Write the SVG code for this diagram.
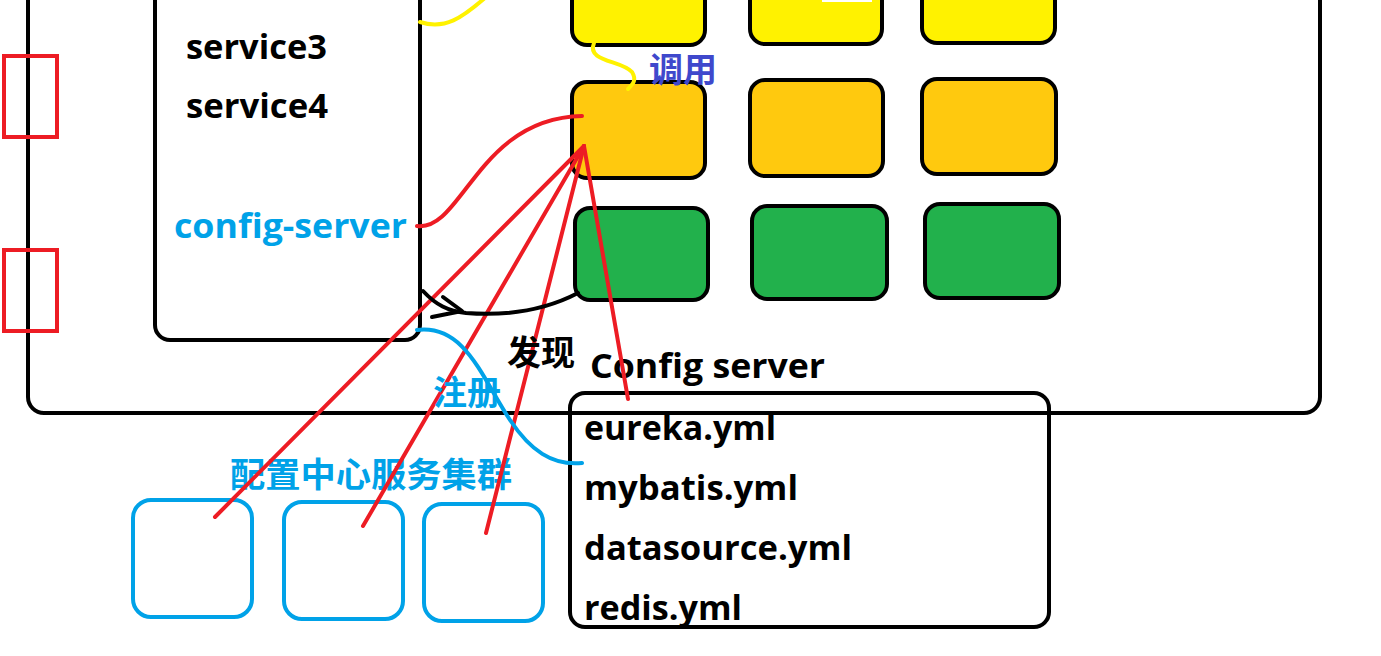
<svg xmlns="http://www.w3.org/2000/svg" width="1381" height="656" viewBox="0 0 1381 656">
<style>
.box{fill:none;stroke:#000;stroke-width:4}
.y{fill:#FFF200;stroke:#000;stroke-width:4}
.o{fill:#FFC90E;stroke:#000;stroke-width:4}
.g{fill:#22B14C;stroke:#000;stroke-width:4}
.bl{fill:none;stroke:#00A2E8;stroke-width:4}
.rr{fill:none;stroke:#ED1C24;stroke-width:4}
.t{font-family:"Open Sans","Noto Sans CJK SC",sans-serif;font-weight:bold;font-size:34px;fill:#000}
.c{font-family:"Noto Sans CJK SC","Noto Sans CJK JP",sans-serif;font-weight:bold;font-size:34px}
.red{fill:none;stroke:#ED1C24;stroke-width:4;stroke-linecap:round}
.blue{fill:none;stroke:#00A2E8;stroke-width:4;stroke-linecap:round}
.yel{fill:none;stroke:#FFF200;stroke-width:4;stroke-linecap:round}
.blk{fill:none;stroke:#000;stroke-width:4;stroke-linecap:round;stroke-linejoin:round}
</style>
<rect width="1381" height="656" fill="#fff"/>
<g id="outer-box"><rect class="box" x="28" y="-40" width="1292" height="453" rx="16"/></g>
<g id="red-marker-1"><rect class="rr" x="4" y="56" width="53" height="81"/></g>
<g id="red-marker-2"><rect class="rr" x="4" y="250" width="53" height="81"/></g>
<g id="service-box">
<rect class="box" x="155" y="-40" width="265" height="380" rx="15"/>
<text class="t" x="186" y="59" textLength="141" lengthAdjust="spacingAndGlyphs">service3</text>
<text class="t" x="186" y="118" textLength="142" lengthAdjust="spacingAndGlyphs">service4</text>
<text class="t" x="174" y="238" style="fill:#00A2E8" textLength="233" lengthAdjust="spacingAndGlyphs">config-server</text>
</g>
<g id="yellow-row">
<rect class="y" x="572" y="-40" width="133" height="85" rx="15"/>
<rect class="y" x="750" y="-40" width="132" height="84" rx="15"/>
<rect x="822" y="-5" width="50" height="7" fill="#fff"/>
<rect class="y" x="922" y="-40" width="133" height="83" rx="15"/>
</g>
<g id="orange-row">
<rect class="o" x="572" y="82" width="133" height="96" rx="15"/>
<rect class="o" x="750" y="80" width="133" height="96" rx="15"/>
<rect class="o" x="922" y="79" width="134" height="95" rx="15"/>
</g>
<g id="green-row">
<rect class="g" x="575" y="208" width="133" height="92" rx="15"/>
<rect class="g" x="752" y="206" width="135" height="93" rx="15"/>
<rect class="g" x="925" y="204" width="134" height="94" rx="15"/>
</g>
<g id="config-server-box">
<text class="t" x="590" y="378" textLength="235" lengthAdjust="spacingAndGlyphs">Config server</text>
<rect class="box" x="570" y="393" width="479" height="234" rx="15"/>
<text class="t" x="584" y="440" textLength="192" lengthAdjust="spacingAndGlyphs">eureka.yml</text>
<text class="t" x="584" y="500" textLength="214" lengthAdjust="spacingAndGlyphs">mybatis.yml</text>
<text class="t" x="584" y="560" textLength="268" lengthAdjust="spacingAndGlyphs">datasource.yml</text>
<text class="t" x="584" y="620" textLength="158" lengthAdjust="spacingAndGlyphs">redis.yml</text>
</g>
<g id="config-cluster">
<text class="c" x="230" y="487" fill="#00A2E8" font-size="35" textLength="282" lengthAdjust="spacingAndGlyphs">配置中心服务集群</text>
<rect class="bl" x="133" y="500" width="119" height="117" rx="18"/>
<rect class="bl" x="284" y="502" width="119" height="117" rx="18"/>
<rect class="bl" x="424" y="504" width="119" height="117" rx="18"/>
</g>
<g id="connectors">
<path class="yel" d="M420,22 C445,30 462,18 486,-3"/>
<path class="yel" d="M594,43 C586,62 622,60 632,72 C637,80 633,84 628,89"/>
<path class="red" d="M417,226 C462,232 478,118 582,116"/>
<path class="red" d="M215,517 L584,146"/>
<path class="red" d="M363,526 L584,146"/>
<path class="red" d="M486,533 L584,146"/>
<path class="red" d="M628,399 L584,146"/>
<path class="blk" d="M423,291 C436,305 448,311 466,313 Q530,318 578,293"/>
<path class="blk" d="M443,297 L462,311 L432,317"/>
<path class="blue" d="M417,330 C465,324 482,378 510,420 C530,450 552,466 582,463"/>
</g>
<g id="labels">
<text class="c" x="649" y="82" fill="#3F48CC">调用</text>
<text class="c" x="507" y="365" fill="#000">发现</text>
<text class="c" x="433" y="405" fill="#00A2E8">注册</text>
</g>
</svg>
